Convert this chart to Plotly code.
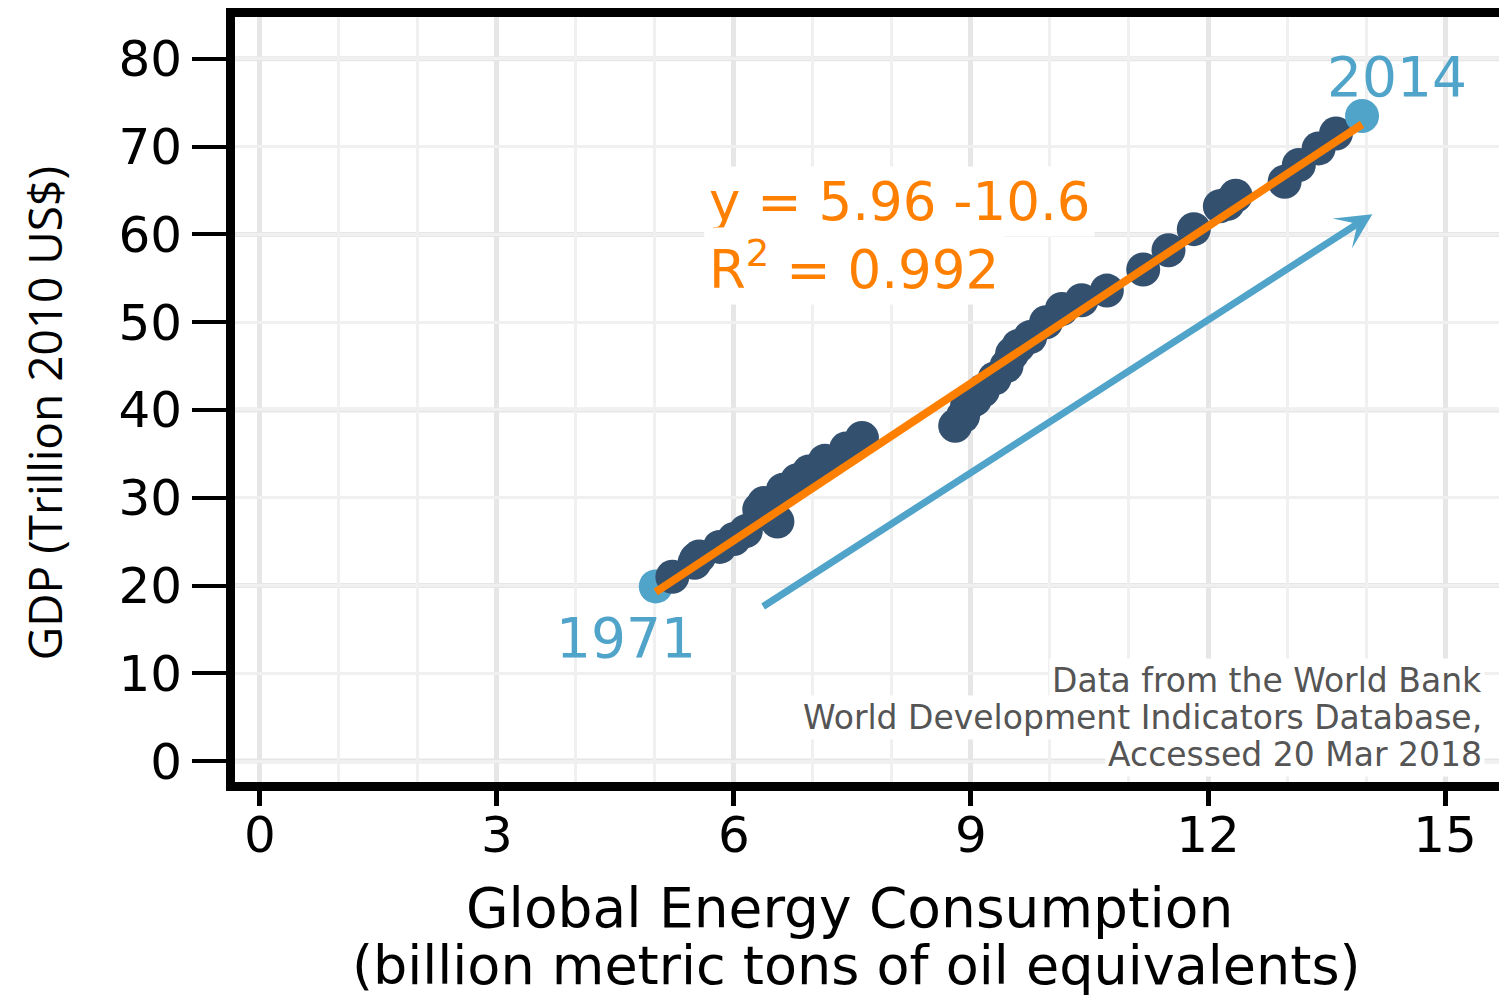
import numpy as np
import plotly.graph_objects as go

# ---------------- data ----------------
years = list(range(1971, 2015))
energy = [5.01, 5.22, 5.50, 5.52, 5.56, 5.82, 6.00, 6.15, 6.55, 6.50,
          6.40, 6.32, 6.38, 6.62, 6.80, 6.95, 7.15, 7.42, 7.62,
          8.80, 8.90, 8.95, 9.05, 9.15, 9.30, 9.45, 9.52, 9.60, 9.75,
          9.95, 10.15, 10.40, 10.72, 11.18, 11.50, 11.82, 12.15, 12.35,
          12.25, 12.97, 13.15, 13.40, 13.62, 13.95]
gdp = [19.9, 21.0, 22.6, 23.0, 23.3, 24.4, 25.3, 26.2, 27.3, 27.8,
       28.3, 28.7, 29.4, 30.9, 32.0, 33.0, 34.2, 35.6, 36.8,
       38.2, 39.3, 40.5, 41.2, 42.2, 43.6, 45.0, 46.4, 47.3, 48.3,
       50.0, 51.5, 52.5, 53.6, 56.0, 58.2, 60.6, 63.2, 64.4,
       63.5, 66.0, 67.9, 69.8, 71.5, 73.5]
fit_slope = 5.96
fit_intercept = -10.6
r_squared = 0.992

x_ticks = [0, 3, 6, 9, 12, 15]
y_ticks = [0, 10, 20, 30, 40, 50, 60, 70, 80]
y_major_grid = [0, 20, 40, 60, 80]

eq_text = "y = 5.96 -10.6"
r2_text = "R<sup>2</sup> = 0.992"
source_lines = ["Data from the World Bank",
                "World Development Indicators Database,",
                "Accessed 20 Mar 2018"]

# arrow (annotation) tail / head in data units
arrow_tail = (6.35, 17.5)
arrow_head = (14.08, 62.3)

# ---------------- styles ----------------
DARK = "#34506f"
LIGHT = "#50a3c9"
ORANGE = "#ff8000"
FONT = "DejaVu Sans"

colors = [LIGHT if (y == years[0] or y == years[-1]) else DARK for y in years]

fig = go.Figure()
fig.add_trace(go.Scatter(
    x=energy, y=gdp, mode="markers",
    marker=dict(size=34, color=colors, line=dict(width=0)),
    hoverinfo="skip", showlegend=False))

fx = np.array([min(energy), max(energy)])
fig.add_trace(go.Scatter(
    x=fx, y=fit_slope * fx + fit_intercept, mode="lines",
    line=dict(color=ORANGE, width=8), hoverinfo="skip", showlegend=False))

# thick major horizontal grid lines (every 20)
for gv in y_major_grid:
    fig.add_shape(type="line", xref="paper", x0=0, x1=1, yref="y", y0=gv, y1=gv,
                  line=dict(color="#e6e6e6", width=5), layer="between")

fig.update_xaxes(
    range=[-0.316, 15.886], tickvals=x_ticks, ticktext=[str(v) for v in x_ticks],
    showgrid=True, gridcolor="#e6e6e6", gridwidth=5,
    minor=dict(dtick=1, showgrid=True, gridcolor="#f0f0f0", gridwidth=2.5),
    zeroline=False, showline=True, linecolor="black", linewidth=9, mirror=True,
    ticks="outside", ticklen=15, tickwidth=5, tickcolor="black",
    ticklabelstandoff=-14,
    tickfont=dict(family=FONT, size=50, color="black"))
fig.update_yaxes(
    range=[-2.386, 84.77], tickvals=y_ticks, ticktext=[str(v) for v in y_ticks],
    showgrid=True, gridcolor="#f0f0f0", gridwidth=2.5,
    zeroline=False, showline=True, linecolor="black", linewidth=9, mirror=False,
    ticks="outside", ticklen=34, tickwidth=4, tickcolor="black",
    tickfont=dict(family=FONT, size=50, color="black"))

ann = []
# axis titles
ann.append(dict(xref="paper", yref="paper", x=0.4797, y=-0.1643,
                text="Global Energy Consumption", showarrow=False,
                xanchor="center", yanchor="middle",
                font=dict(family=FONT, size=55, color="black")))
ann.append(dict(xref="paper", yref="paper", x=0.4852, y=-0.2405,
                text="(billion metric tons of oil equivalents)", showarrow=False,
                xanchor="center", yanchor="middle",
                font=dict(family=FONT, size=54, color="black")))
ann.append(dict(xref="paper", yref="paper", x=-0.1490, y=0.4824,
                text="GDP (Trillion 2010 US$)", showarrow=False, textangle=-90,
                xanchor="center", yanchor="middle",
                font=dict(family="Open Sans", size=46, color="black")))
# equation
ann.append(dict(x=5.62, y=63.75, text=eq_text, showarrow=False,
                xanchor="left", yanchor="middle", bgcolor="white", borderpad=4,
                font=dict(family=FONT, size=53, color=ORANGE)))
ann.append(dict(x=5.62, y=56.4, text=r2_text, showarrow=False,
                xanchor="left", yanchor="middle", bgcolor="white", borderpad=4,
                font=dict(family=FONT, size=53, color=ORANGE)))
# year labels
ann.append(dict(x=14.39, y=77.95, text=str(years[-1]), showarrow=False,
                xanchor="center", yanchor="middle",
                font=dict(family=FONT, size=55, color=LIGHT)))
ann.append(dict(x=4.63, y=14.0, text=str(years[0]), showarrow=False,
                xanchor="center", yanchor="middle",
                font=dict(family=FONT, size=55, color=LIGHT)))
# source
for i, line in enumerate(source_lines):
    ann.append(dict(x=15.51, y=9.2 - i * 4.2, text=line, showarrow=False,
                    xanchor="right", yanchor="middle", bgcolor="white", borderpad=2,
                    font=dict(family=FONT, size=33, color="#555555")))
# arrow
ann.append(dict(x=arrow_head[0], y=arrow_head[1], ax=arrow_tail[0], ay=arrow_tail[1],
                xref="x", yref="y", axref="x", ayref="y", text="",
                showarrow=True, arrowhead=3, arrowsize=0.85, arrowwidth=7,
                arrowcolor=LIGHT))

# the page body has an 8px default margin; size the figure so the plot area
# lands where the reference has it inside the 1507x997 window
fig.update_layout(
    width=1507, height=989,
    margin=dict(l=227, r=0, t=7, b=215),
    paper_bgcolor="white", plot_bgcolor="white",
    annotations=ann, showlegend=False)

fig.write_html("out.html")
